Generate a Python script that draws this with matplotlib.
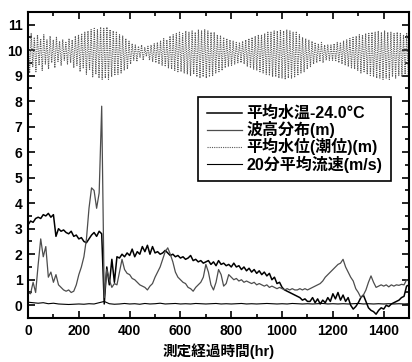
import numpy as np
import matplotlib
matplotlib.use("Agg")
import matplotlib.pyplot as plt
from matplotlib.ticker import MultipleLocator

plt.rcParams['font.family'] = ['Liberation Sans', 'Noto Sans CJK JP', 'DejaVu Sans']
plt.rcParams['font.weight'] = 'bold'

# 10-hour samples, 0..1500 hr
step_hr = 10
temp_vals = [
    3.15, 3.3, 3.25, 3.4, 3.45, 3.4, 3.55, 3.5, 3.6, 3.45,
    3.55, 2.7, 3.0, 2.9, 2.95, 2.85, 2.8, 2.9, 2.7, 2.75,
    2.6, 2.65, 2.5, 2.45, 2.6, 2.75, 2.85, 2.7, 2.9, 2.8,
    0.05, 1.5, 0.8, 1.8, 0.9, 1.9, 1.85, 2.0, 1.9, 2.05,
    1.95, 2.2, 1.9, 2.1, 2.0, 2.3, 2.1, 2.35, 2.0, 2.3,
    2.05, 2.1, 2.0, 2.05, 2.15, 2.05, 1.95, 2.0, 1.9, 1.95,
    1.85, 1.9, 1.8, 1.85, 1.95, 1.75, 1.8, 1.7, 1.75, 1.65,
    1.7, 1.75, 1.6, 1.7, 1.55, 1.75, 1.6, 1.65, 1.55, 1.6,
    1.5, 1.65, 1.5, 1.55, 1.4, 1.5, 1.35, 1.45, 1.3, 1.4,
    1.25, 1.35, 1.2, 1.3, 1.15, 1.25, 1.0, 1.1, 0.85, 0.9,
    0.7, 0.6, 0.55, 0.5, 0.45, 0.4, 0.35, 0.3, 0.2, 0.25,
    0.15, 0.15, 0.3, 0.1, 0.25, 0.05, 0.2, 0.1, 0.3, 0.15,
    0.45, 0.25, 0.5, 0.2, 0.4, 0.15, 0.3, 0.0, -0.15, -0.05,
    0.1, 0.3, 0.4, 0.15, -0.1, -0.2, -0.25, -0.35, -0.2, -0.1,
    -0.15, 0.0, -0.05, 0.05, 0.1, 0.15, 0.2, 0.3, 0.35, 0.75,
    0.8,
]
wave_vals = [
    0.5, 0.45, 0.9, 0.5, 1.6, 2.6, 1.9, 2.3, 1.1, 1.3,
    0.9, 1.2, 0.8, 0.7, 0.6, 0.55, 0.6, 0.5, 0.55, 0.8,
    1.2, 1.5, 1.9, 2.6, 3.8, 4.6, 4.5, 3.8, 4.4, 7.8,
    0.3, 1.4, 1.0, 0.7, 0.85, 0.8, 1.3, 1.8, 1.4, 1.25,
    1.2, 1.05, 1.0, 0.9, 0.8, 0.75, 0.7, 0.6, 0.75, 0.85,
    1.1, 1.3, 1.5, 1.8, 2.1, 2.25, 2.0, 1.7, 1.3, 1.1,
    1.0, 0.9, 0.85, 0.7, 0.65, 0.55, 0.7, 0.8, 0.9, 1.1,
    1.6, 1.3, 0.8, 0.6, 0.9, 1.4, 1.2, 0.75, 0.85, 1.2,
    1.1, 1.0, 1.05, 0.95, 1.0, 0.9, 0.95, 0.9, 0.85, 0.9,
    0.8, 0.85, 0.8, 0.75, 0.8, 0.7, 0.75, 0.7, 0.65, 0.7,
    0.65, 0.6, 0.65, 0.6, 0.65, 0.6, 0.6, 0.65, 0.6, 0.65,
    0.6, 0.65, 0.7, 0.75, 0.8, 0.85, 0.95, 1.1, 1.2, 1.3,
    1.4, 1.5, 1.6, 1.65, 1.8, 1.5, 1.3, 1.1, 0.95, 0.65,
    0.5, 0.3, 0.4, 0.6, 0.9, 1.15, 0.9, 0.7, 0.75, 0.8,
    0.75, 0.8, 0.72, 0.8, 0.75, 0.8, 0.78, 0.82, 0.8, 1.0,
    0.95,
]

# 20-hour samples of the mean current speed
flow_step_hr = 20
flow_vals = [
    0.12, 0.1, 0.08, 0.1, 0.06, 0.08, 0.05, 0.04, 0.03, 0.04,
    0.05, 0.04, 0.06, 0.05, 0.1, 0.15, 0.06, 0.04, 0.05, 0.07,
    0.05, 0.06, 0.04, 0.07, 0.05, 0.06, 0.08, 0.05, 0.06, 0.07,
    0.05, 0.06, 0.05, 0.07, 0.06, 0.05, 0.06, 0.07, 0.05, 0.06,
    0.05, 0.06, 0.07, 0.05, 0.06, 0.05, 0.06, 0.07, 0.06, 0.05,
    0.06, 0.05, 0.07, 0.06, 0.05, 0.06, 0.05, 0.06, 0.07, 0.05,
    0.06, 0.05, 0.06, 0.05, 0.06, 0.07, 0.05, 0.06, 0.05, 0.06,
    0.05, 0.06, 0.05, 0.06, 0.05, 0.06,
]

# tide: high and low water of each semidiurnal cycle (12.42 hr)
tide_period_hr = 12.42
tide_high = [
    10.55, 10.65, 10.5, 10.6, 10.45, 10.6, 10.4, 10.55,
    10.4, 10.5, 10.35, 10.4, 10.3, 10.45, 10.4, 10.55,
    10.6, 10.65, 10.7, 10.75, 10.8, 10.85, 10.8, 10.9,
    10.85, 10.9, 10.8, 10.75, 10.7, 10.6, 10.55, 10.45,
    10.35, 10.25, 10.2, 10.15, 10.2, 10.1, 10.15, 10.2,
    10.25, 10.3, 10.35, 10.45, 10.4, 10.55, 10.6, 10.65,
    10.7, 10.65, 10.75, 10.7, 10.75, 10.7, 10.8, 10.75,
    10.8, 10.75, 10.7, 10.7, 10.6, 10.55, 10.5, 10.45,
    10.4, 10.35, 10.3, 10.3, 10.35, 10.4, 10.45, 10.5,
    10.55, 10.6, 10.6, 10.65, 10.7, 10.7, 10.75, 10.75,
    10.8, 10.75, 10.8, 10.75, 10.7, 10.7, 10.6, 10.5,
    10.45, 10.4, 10.35, 10.3, 10.25, 10.3, 10.2, 10.2,
    10.2, 10.25, 10.3, 10.3, 10.35, 10.4, 10.45, 10.5,
    10.55, 10.6, 10.6, 10.65, 10.65, 10.7, 10.7, 10.75,
    10.7, 10.75, 10.7, 10.7, 10.65, 10.7, 10.65, 10.6, 10.65,
]
tide_low = [
    9.1, 9.35, 9.15, 9.4, 9.2, 9.45, 9.25, 9.5,
    9.3, 9.55, 9.4, 9.6, 9.45, 9.5, 9.3, 9.4,
    9.15, 9.3, 9.05, 9.2, 8.95, 9.05, 8.9, 8.85,
    8.9, 8.85, 8.95, 9.0, 9.05, 9.1, 9.2, 9.25,
    9.45, 9.6, 9.55, 9.7, 9.6, 9.75, 9.6, 9.55,
    9.5, 9.45, 9.4, 9.35, 9.3, 9.25, 9.2, 9.15,
    9.15, 9.1, 9.05, 9.0, 9.05, 8.95, 8.9, 8.95,
    8.9, 8.95, 9.0, 9.1, 9.15, 9.2, 9.3, 9.35,
    9.4, 9.45, 9.5, 9.5, 9.45, 9.35, 9.3, 9.25,
    9.2, 9.15, 9.1, 9.05, 9.0, 8.95, 8.95, 8.9,
    8.9, 8.85, 8.9, 8.9, 8.95, 9.0, 9.1, 9.15,
    9.25, 9.35, 9.45, 9.5, 9.55, 9.5, 9.6, 9.6,
    9.6, 9.55, 9.5, 9.45, 9.4, 9.35, 9.3, 9.25,
    9.2, 9.1, 9.15, 9.05, 9.0, 8.95, 8.9, 8.9,
    8.85, 8.9, 8.85, 8.95, 8.9, 9.0, 8.95, 9.05, 9.0,
]

labels = ['平均水温-24.0°C', '波高分布(m)', '平均水位(潮位)(m)', '20分平均流速(m/s)']

t_main = np.arange(len(temp_vals)) * step_hr
t_flow = np.arange(len(flow_vals)) * flow_step_hr
tide_t = np.empty(2 * len(tide_high))
tide_t[0::2] = np.arange(len(tide_high)) * tide_period_hr
tide_t[1::2] = tide_t[0::2] + tide_period_hr / 2
tide_v = np.empty(2 * len(tide_high))
tide_v[0::2] = tide_high
tide_v[1::2] = tide_low

fig = plt.figure(figsize=(4.12, 3.62), dpi=100)
ax = fig.add_axes([0.068, 0.1215, 0.925, 0.846])

ax.plot(t_main, temp_vals, color='black', lw=1.1, label=labels[0])
ax.plot(t_main, wave_vals, color='0.3', lw=0.9, label=labels[1])
ax.plot(tide_t, tide_v, color='0.35', lw=0.8, ls=(0, (1, 1)), label=labels[2])
ax.plot(t_flow, flow_vals, color='black', lw=0.8, label=labels[3])

ax.set_xlim(0, 1500)
ax.set_ylim(-0.5, 11.5)
ax.xaxis.set_major_locator(MultipleLocator(200))
ax.xaxis.set_minor_locator(MultipleLocator(100))
ax.yaxis.set_major_locator(MultipleLocator(1))
ax.yaxis.set_minor_locator(MultipleLocator(0.5))
ax.tick_params(which='both', direction='in', top=True, right=True, width=1.2)
ax.tick_params(which='major', length=5, labelsize=10, pad=4)
ax.tick_params(which='minor', length=3)
for lab in ax.get_xticklabels() + ax.get_yticklabels():
    lab.set_fontweight('bold')
for sp in ax.spines.values():
    sp.set_linewidth(1.5)

ax.set_xlabel('測定経過時間(hr)', fontsize=10.5, fontweight='bold', labelpad=4)

leg = ax.legend(loc='upper left', bbox_to_anchor=(0.446, 0.722), borderaxespad=0,
                fontsize=11.5, handlelength=2.2, handletextpad=0.3, labelspacing=0.0,
                borderpad=0.55, fancybox=False, framealpha=1, edgecolor='black')
leg.get_frame().set_linewidth(1.2)
for txt in leg.get_texts():
    txt.set_fontweight('bold')

fig.savefig('out.png', dpi=100)
